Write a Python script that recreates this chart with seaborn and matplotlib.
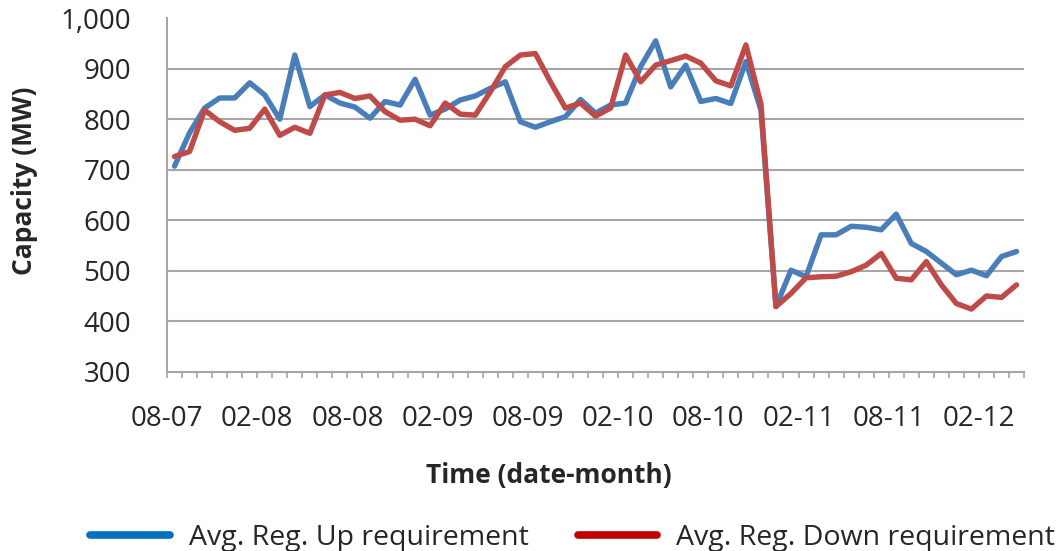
import numpy as np
import pandas as pd
import matplotlib
matplotlib.use('Agg')
import matplotlib.pyplot as plt
from matplotlib.lines import Line2D
from matplotlib.ticker import FixedLocator, FuncFormatter
import seaborn as sns

# Monthly average regulation requirement (MW), Aug 2007 .. Apr 2012
reg_up = [707, 773, 822, 842, 842, 872, 848, 800, 927, 825,
          848, 832, 824, 802, 835, 828, 879, 808, 820, 838,
          846, 861, 874, 795, 784, 795, 805, 839, 812, 828,
          832, 904, 955, 864, 907, 835, 841, 831, 914, 818,
          429, 501, 488, 571, 571, 588, 586, 581, 612, 554,
          538, 515, 492, 501, 490, 528, 538]
reg_down = [726, 736, 818, 795, 778, 782, 820, 768, 784, 772,
            848, 853, 841, 846, 815, 798, 800, 787, 832, 810,
            808, 854, 904, 927, 930, 874, 822, 832, 806, 822,
            927, 874, 907, 916, 925, 911, 876, 866, 947, 830,
            429, 455, 486, 488, 489, 498, 511, 534, 485, 482,
            518, 472, 435, 424, 450, 447, 472]

tick_labels = ['08-07', '02-08', '08-08', '02-09', '08-09',
               '02-10', '08-10', '02-11', '08-11', '02-12']
tick_months = [0, 6, 12, 18, 24, 30, 36, 42, 48, 54]

up_name = 'Avg. Reg. Up requirement'
down_name = 'Avg. Reg. Down requirement'

n = len(reg_up)
months = np.arange(n)
df = pd.DataFrame({
    'month': np.concatenate([months, months]),
    'MW': reg_up + reg_down,
    'series': [up_name] * n + [down_name] * n,
})

sns.set_style('white')
plt.rcParams['font.family'] = ['Open Sans', 'DejaVu Sans']

blue, red = '#4A7EBB', '#BE4B48'
grid_c = '#A6A6A6'

fig = plt.figure(figsize=(10.59, 5.51), dpi=100)
ax = fig.add_axes([0.1577, 0.3254, 0.8093, 0.6416])

sns.lineplot(data=df, x='month', y='MW', hue='series',
             palette={up_name: blue, down_name: red},
             linewidth=3.9, legend=False, ax=ax)

# y axis
ax.set_ylim(300, 1000)
ax.set_yticks(range(300, 1001, 100))
ax.yaxis.set_major_formatter(FuncFormatter(lambda v, p: f'{int(v):,}'))
ax.yaxis.grid(True, color=grid_c, linewidth=1.5)
ax.set_axisbelow(True)
for gl in ax.get_ygridlines()[::7]:
    gl.set_visible(False)
ax.tick_params(axis='y', length=0, pad=26, labelsize=20)

# x axis (category style: ticks between months)
ax.set_xlim(-0.5, n - 0.5)
ax.set_xticks(np.array(tick_months) - 0.5, tick_labels)
ax.xaxis.set_minor_locator(FixedLocator(np.arange(-0.5, n, 1)))
ax.tick_params(axis='x', which='both', bottom=True, length=4,
               width=1.2, color=grid_c, direction='out')
ax.tick_params(axis='x', which='major', pad=20, labelsize=20)

for s in ['top', 'right']:
    ax.spines[s].set_visible(False)
for s in ['left', 'bottom']:
    ax.spines[s].set_color(grid_c)
    ax.spines[s].set_linewidth(1.5)

ax.set_xlabel('Time (date-month)', fontsize=19, fontweight='bold')
ax.set_ylabel('Capacity (MW)', fontsize=19, fontweight='bold')
ax.xaxis.set_label_coords(0.445, -0.295)
ax.xaxis.label.set_va('center')
ax.yaxis.set_label_coords(-0.166, 0.54)
ax.yaxis.label.set_va('center')

handles = [Line2D([], [], color='#0070C0', linewidth=5.5),
           Line2D([], [], color='#C00000', linewidth=5.5)]
fig.legend(handles, [up_name, down_name], loc='center',
           bbox_to_anchor=(0.541, 0.024), ncol=2, frameon=False,
           fontsize=20.5, handlelength=2.8, handletextpad=0.67,
           columnspacing=1.7)

fig.savefig('out.png', dpi=100)
